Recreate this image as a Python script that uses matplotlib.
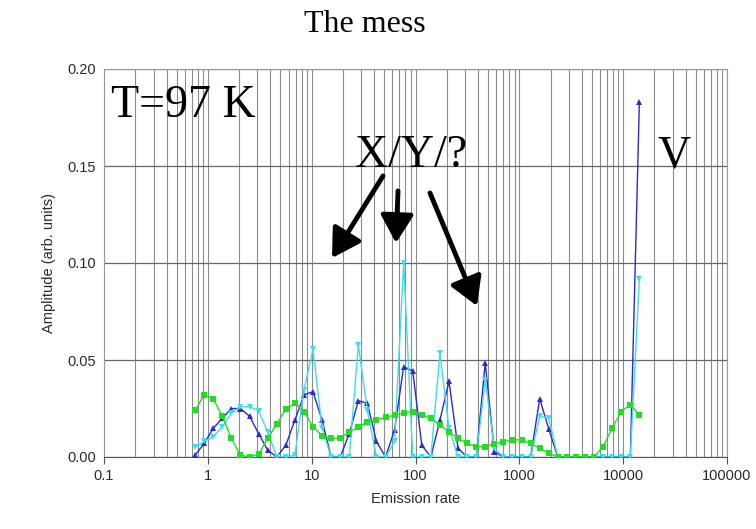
import numpy as np
import matplotlib
matplotlib.use("Agg")
import matplotlib.pyplot as plt
from matplotlib.ticker import LogLocator, FixedLocator, FuncFormatter

# emission rate grid (s^-1), shared by all three spectra
rate = [0.755, 0.923, 1.128, 1.380, 1.687, 2.063, 2.522, 3.084, 3.771, 4.610,
        5.636, 6.891, 8.425, 10.30, 12.59, 15.40, 18.83, 23.02, 28.14, 34.41,
        42.07, 51.44, 62.89, 76.91, 94.05, 115.0, 140.6, 171.9, 210.2, 257.0,
        314.2, 384.2, 469.7, 574.3, 702.2, 858.7, 1050, 1284, 1570, 1919,
        2346, 2869, 3507, 4288, 5243, 6411, 7838, 9583, 11720, 14330]

amp_blue = [0.001, 0.007, 0.0148, 0.020, 0.025, 0.025, 0.021, 0.012, 0.0036, 0.0,
            0.006, 0.019, 0.032, 0.0337, 0.019, 0.0, 0.0, 0.012, 0.029, 0.0277,
            0.008, 0.0, 0.014, 0.0466, 0.0443, 0.006, 0.0, 0.019, 0.039, 0.0045,
            0.0, 0.0, 0.0486, 0.0027, 0.0, 0.0, 0.0, 0.0, 0.030, 0.0145,
            0.0, 0.0, 0.0, 0.0, 0.0, 0.0, 0.0, 0.0, 0.0, 0.183]

amp_cyan = [0.005, 0.008, 0.0105, 0.0156, 0.0225, 0.026, 0.026, 0.0237, 0.013, 0.0,
            0.0, 0.001, 0.0345, 0.0555, 0.015, 0.0, 0.0, 0.0, 0.0577, 0.024,
            0.0, 0.0, 0.008, 0.100, 0.0, 0.0, 0.0, 0.0534, 0.0148, 0.0,
            0.0, 0.0, 0.0397, 0.0045, 0.0, 0.0, 0.0, 0.0, 0.021, 0.020,
            0.0, 0.0, 0.0, 0.0, 0.0, 0.0, 0.0, 0.0, 0.0, 0.092]

amp_green = [0.024, 0.032, 0.030, 0.021, 0.0096, 0.001, 0.0, 0.0015, 0.0096, 0.017,
             0.0246, 0.0277, 0.0234, 0.0156, 0.011, 0.0096, 0.0098, 0.0128, 0.0155, 0.018,
             0.0192, 0.0205, 0.0215, 0.0228, 0.0234, 0.0218, 0.0199, 0.0165, 0.013, 0.0096,
             0.007, 0.0053, 0.0053, 0.0067, 0.0079, 0.0088, 0.0088, 0.007, 0.0045, 0.0019,
             0.0, 0.0, 0.0, 0.0, 0.0, 0.0053, 0.015, 0.0234, 0.027, 0.0216]

x_ticks = [0.1, 1, 10, 100, 1000, 10000, 100000]
y_ticks = [0.00, 0.05, 0.10, 0.15, 0.20]

W, H = 756, 529
fig = plt.figure(figsize=(W / 100, H / 100), dpi=100)
ax = fig.add_axes([104 / W, 1 - 457 / H, (727 - 104) / W, (457 - 69) / H])

ax.plot(rate, amp_blue, color="#2b2bcc", lw=1.0, marker="^", ms=4.5,
        markeredgewidth=0, zorder=3)
ax.plot(rate, amp_cyan, color="#3fdcec", lw=1.0, marker="v", ms=4.5,
        markeredgewidth=0, zorder=4)
ax.plot(rate, amp_green, color="#22dd22", lw=1.0, marker="s", ms=5,
        markeredgewidth=0, zorder=5)

ax.set_xscale("log")
ax.set_xlim(0.1, 100000)
ax.set_ylim(0, 0.20)
ax.xaxis.set_major_locator(FixedLocator(x_ticks))
ax.xaxis.set_minor_locator(LogLocator(base=10, subs=np.arange(2, 10), numticks=20))
ax.xaxis.set_major_formatter(FuncFormatter(lambda v, p: f"{v:g}" if v < 1 else f"{v:.0f}"))
ax.yaxis.set_major_locator(FixedLocator(y_ticks))
ax.yaxis.set_major_formatter(FuncFormatter(lambda v, p: f"{v:.2f}"))

ax.grid(True, which="major", axis="y", color="#666666", lw=0.9)
ax.grid(True, which="both", axis="x", color="#8c8c8c", lw=0.8)
ax.set_axisbelow(True)

for side in ["top", "right", "left"]:
    ax.spines[side].set_color("#999999")
    ax.spines[side].set_linewidth(0.8)
ax.spines["bottom"].set_color("#555555")

tick_font = dict(family="Liberation Sans", size=10.5, color="#2a2a2a")
ax.tick_params(axis="x", which="major", length=5, color="#555555", pad=4)
ax.tick_params(axis="x", which="minor", length=0)
ax.tick_params(axis="y", length=0, pad=6)
for lab in ax.get_xticklabels() + ax.get_yticklabels():
    lab.set_fontfamily("Liberation Sans")
    lab.set_fontsize(10.5)
    lab.set_color("#2a2a2a")

ax.set_xlabel("Emission rate", fontdict=tick_font, labelpad=6)
ax.set_ylabel("Amplitude (arb. units)", fontdict=tick_font, labelpad=8)

fig.text(365 / W, 1 - 24 / H, "The mess", ha="center", va="center",
         family="Liberation Serif", size=23)

serif = dict(family="Liberation Serif", size=33, color="black")
fig.text(111 / W, 1 - 106 / H, "T=97 K", ha="left", va="center", **serif)
fig.text(411 / W, 1 - 156 / H, "X/Y/?", ha="center", va="center", **serif)
fig.text(674 / W, 1 - 156 / H, "V", ha="center", va="center", **serif)


def px(x, y):
    return (x / W, 1 - y / H)


arrows = [((383, 176), (332, 258)),
          ((398, 191), (396, 243)),
          ((430, 193), (477, 306))]
for start, tip in arrows:
    fig.patches.append(matplotlib.patches.FancyArrowPatch(
        px(*start), px(*tip), transform=fig.transFigure,
        arrowstyle="-|>,head_length=0.85,head_width=0.5", mutation_scale=20,
        lw=3.5, color="black", shrinkA=0, shrinkB=0))

fig.savefig("out.png", dpi=100, facecolor="white")
